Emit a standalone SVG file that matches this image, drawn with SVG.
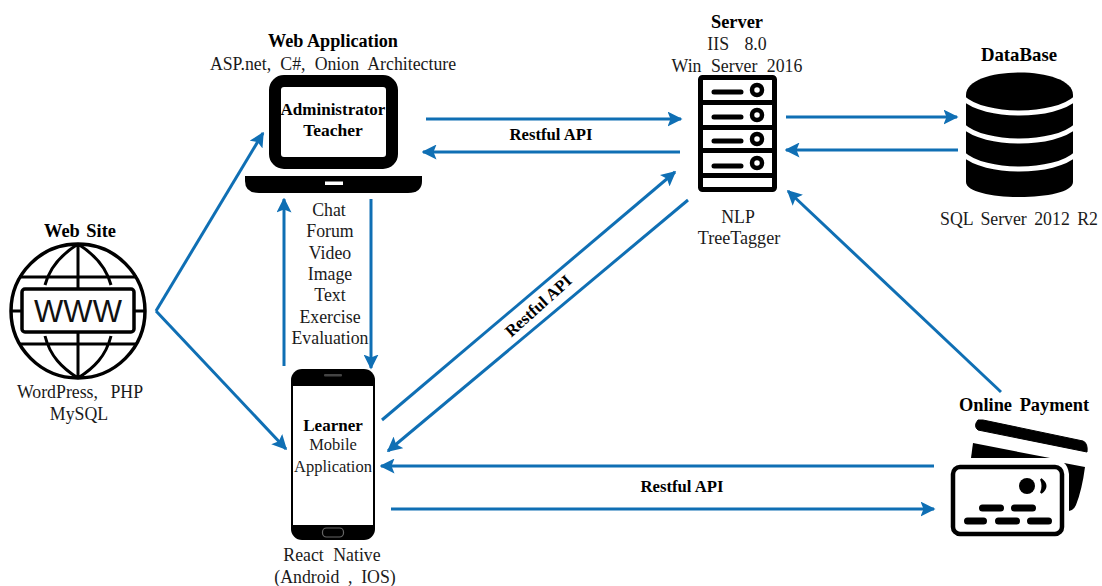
<svg xmlns="http://www.w3.org/2000/svg" width="1102" height="586" viewBox="0 0 1102 586">
<style>
text{font-family:"Liberation Serif","Times New Roman",serif;font-size:17.800px;fill:#1a1a1a;text-anchor:middle}
.b{font-weight:bold;fill:#000;font-size:18.400px}
.r{font-weight:bold;fill:#000;font-size:16.700px}
.s{font-size:16.500px}
.c line{stroke:#0f6fb4;stroke-width:3;fill:none;marker-end:url(#a)}
.o{fill:none;stroke:#000}
</style>
<defs><marker id="a" viewBox="0 0 10 10" refX="9" refY="5" markerWidth="5" markerHeight="5" orient="auto" markerUnits="strokeWidth"><path d="M0 0L10 5L0 10L2 5Z" fill="#0f6fb4"/></marker></defs>
<rect width="1102" height="586" fill="#fff"/>
<g id="connectors" class="c">
<line x1="156" y1="311" x2="263" y2="133"/>
<line x1="156" y1="311" x2="286" y2="449"/>
<line x1="284" y1="366" x2="284" y2="199"/>
<line x1="371" y1="199" x2="371" y2="368"/>
<line x1="426" y1="119" x2="681" y2="119"/>
<line x1="680" y1="152" x2="423" y2="152"/>
<line x1="786" y1="117" x2="957" y2="117"/>
<line x1="958" y1="150" x2="786" y2="150"/>
<line x1="382" y1="420" x2="675" y2="172"/>
<line x1="688" y1="200" x2="388" y2="451"/>
<line x1="1001" y1="392" x2="788" y2="191"/>
<line x1="934" y1="466" x2="381" y2="466"/>
<line x1="391" y1="509" x2="934" y2="509"/>
</g>
<g id="website">
<circle class="o" cx="78" cy="311" r="67" stroke-width="3.500"/>
<path class="o" stroke-width="3" d="M78 244V289M78 332V378M11 311H21M134 311H145M19 277H137M19 344H137M78 244C62 254 50 266 45 285M78 244C94 254 106 266 111 285M78 378C62 368 50 356 45 336M78 378C94 368 106 356 111 336"/>
<rect class="o" x="22" y="289" width="112" height="43" rx="3" stroke-width="3.500"/>
<text x="78" y="322" style="font-family:'Liberation Sans',sans-serif;font-size:31px;fill:#111">WWW</text>
<text class="b" x="80" y="237" style="word-spacing:2px">Web Site</text>
<text x="80" y="398" style="word-spacing:8px">WordPress, PHP</text>
<text x="79" y="420">MySQL</text>
</g>
<g id="web-application">
<rect x="275" y="81" width="117" height="82" rx="9" fill="#fff" stroke="#000" stroke-width="12"/>
<path d="M245 176H422V181Q422 193 408 193H259Q245 193 245 181Z"/>
<rect x="325" y="181.500" width="18" height="3.500" fill="#fff"/>
<text class="b" x="333" y="47" style="font-size:18.200px">Web Application</text>
<text x="333" y="70" style="word-spacing:4.700px">ASP.net, C#, Onion Architecture</text>
<text class="b" x="333" y="115" style="font-size:17px">Administrator</text>
<text class="b" x="333" y="136" style="font-size:17.500px">Teacher</text>
</g>
<g id="mobile-application">
<rect x="291" y="369" width="84" height="171" rx="11"/>
<rect x="293" y="386" width="80" height="139" fill="#fff"/>
<rect x="324" y="374" width="18" height="2.500" rx="1" fill="#444"/>
<rect x="322.500" y="528" width="21" height="9" rx="4" fill="none" stroke="#666" stroke-width="1.200"/>
<text class="b" x="333" y="431" style="font-size:17px">Learner</text>
<text class="s" x="333" y="450">Mobile</text>
<text class="s" x="333" y="472">Application</text>
<text x="332" y="561" style="word-spacing:5px">React Native</text>
<text x="335" y="583" style="word-spacing:4.200px">(Android , IOS)</text>
<text x="329" y="216">Chat</text>
<text x="330" y="237">Forum</text>
<text x="330" y="259">Video</text>
<text x="330" y="280">Image</text>
<text x="330" y="301">Text</text>
<text x="330" y="323">Exercise</text>
<text x="330" y="344">Evaluation</text>
</g>
<g id="server">
<rect x="700.500" y="77.500" width="74" height="112" rx="2" fill="#fff" stroke="#000" stroke-width="5"/>
<path stroke="#000" stroke-width="5" d="M700 102.500H775M700 127.500H775M700 150.500H775M700 175.500H775" fill="none"/>
<g fill="none" stroke="#000">
<path stroke-width="5" stroke-linecap="round" d="M714 92H741M714 117H741M714 141H741M714 166H741"/>
<circle cx="757" cy="90" r="5" stroke-width="4.500"/><circle cx="757" cy="115" r="5" stroke-width="4.500"/><circle cx="757" cy="139" r="5" stroke-width="4.500"/><circle cx="757" cy="163" r="5" stroke-width="4.500"/>
</g>
<text class="b" x="737" y="28">Server</text>
<text x="737" y="50" style="word-spacing:11px">IIS 8.0</text>
<text x="737" y="72" style="word-spacing:5px">Win Server 2016</text>
<text x="738" y="223">NLP</text>
<text x="739" y="244" style="font-size:18.100px">TreeTagger</text>
</g>
<g id="database">
<path d="M966 95C966 65 1073 65 1073 95V182C1073 202 966 202 966 182Z"/>
<path d="M963 98C985 118 1054 118 1076 98M963 126C985 146 1054 146 1076 126M963 154C985 174 1054 174 1076 154" fill="none" stroke="#fff" stroke-width="5"/>
<text class="b" x="1019" y="61" style="font-size:18.800px">DataBase</text>
<text x="1019" y="225" style="word-spacing:3px">SQL Server 2012 R2</text>
</g>
<g id="online-payment">
<path d="M978 420L983 420L1083 441Q1088 443 1087 452L978 430Q973 426 978 420Z" stroke="#000" stroke-width="1"/>
<path d="M973 443L1050 458H971Z"/>
<path d="M1064 463L1085 467Q1082 490 1076 505Q1074 510 1069 511V474Q1068 466 1064 463Z"/>
<rect x="953" y="467" width="109" height="67" rx="7" fill="#fff" stroke="#000" stroke-width="4.500"/>
<circle cx="1027" cy="486" r="8"/>
<path d="M1041 479Q1050 486 1041 493Q1044 486 1041 479Z" stroke="#000" stroke-width="2"/>
<g stroke="#000" stroke-width="7" stroke-linecap="round"><path d="M982.500 508H1000.500M1014.500 508H1032.500M967.500 521H983.500M998.500 521H1016.500M1030.500 521H1048.500"/></g>
<text class="b" x="1024" y="411" style="word-spacing:3px">Online Payment</text>
</g>
<g id="labels">
<text class="r" x="551" y="140">Restful API</text>
<text class="r" x="682" y="492">Restful API</text>
<text class="r" x="542" y="310" transform="rotate(-42 542 310)">Restful API</text>
</g>
</svg>
